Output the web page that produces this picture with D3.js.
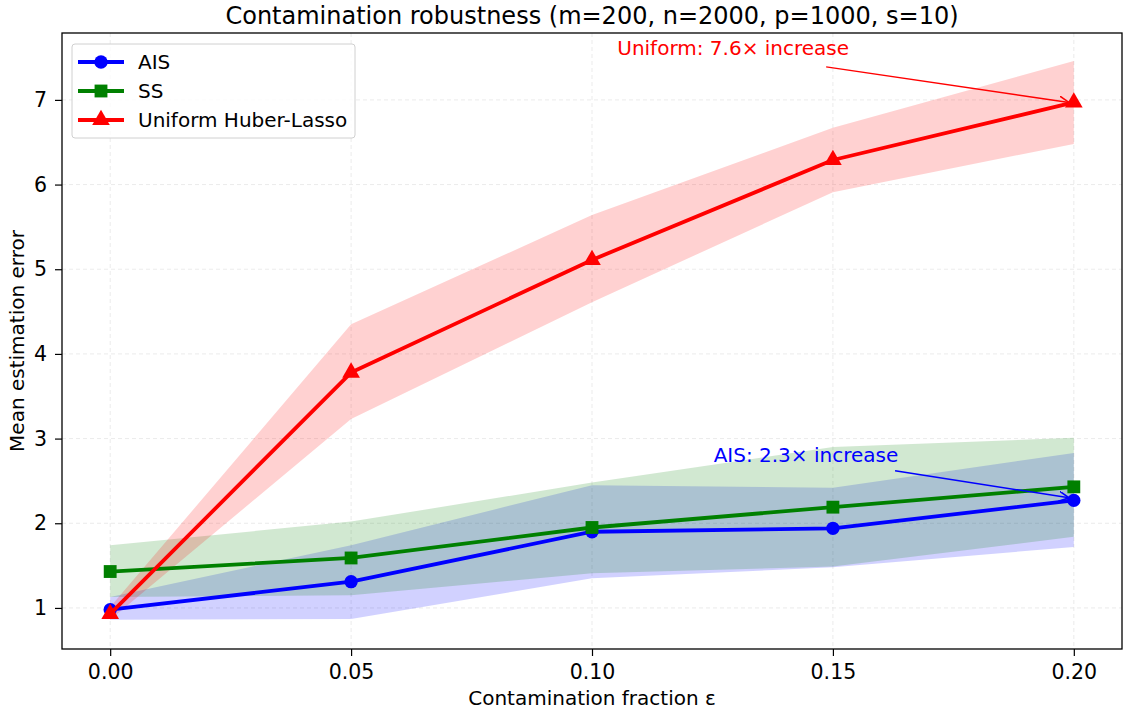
<!DOCTYPE html>
<html>
<head>
<meta charset="utf-8">
<script src="https://cdn.jsdelivr.net/npm/d3@7"></script>
<style>
  body { margin: 0; background: #fff; }
  svg { font-family: "DejaVu Sans", sans-serif; }
</style>
</head>
<body>
<svg id="chart" width="1123" height="711"></svg>
<script>
// contamination fractions
const eps = [0.00, 0.05, 0.10, 0.15, 0.20];

// mean estimation error per method
const aisMean = [0.98, 1.31, 1.90, 1.94, 2.27];
const aisLow = [0.86, 0.87, 1.35, 1.48, 1.72];
const aisHigh = [1.13, 1.74, 2.45, 2.42, 2.83];

const ssMean = [1.43, 1.59, 1.95, 2.19, 2.43];
const ssLow = [1.13, 1.15, 1.41, 1.49, 1.84];
const ssHigh = [1.74, 2.02, 2.48, 2.90, 3.01];

const uniMean = [0.93, 3.78, 5.11, 6.29, 6.97];
const uniLow = [0.86, 3.23, 4.61, 5.91, 6.48];
const uniHigh = [1.01, 4.35, 5.64, 6.67, 7.46];

const xTicks = [0.00, 0.05, 0.10, 0.15, 0.20];
const yTicks = [1, 2, 3, 4, 5, 6, 7];

const series = [
    { name: "AIS", color: "#0000ff", band: "rgba(0,0,255,0.18)", marker: d3.symbolCircle, size: 140, mean: aisMean, low: aisLow, high: aisHigh },
    { name: "SS", color: "#008000", band: "rgba(0,128,0,0.18)", marker: d3.symbolSquare, size: 165, mean: ssMean, low: ssLow, high: ssHigh },
    { name: "Uniform Huber-Lasso", color: "#ff0000", band: "rgba(255,0,0,0.18)", marker: d3.symbolTriangle, size: 135, mean: uniMean, low: uniLow, high: uniHigh }
];

const svg = d3.select("#chart"),
    margin = { top: 33, right: 1, bottom: 62, left: 62 },
    width = +svg.attr("width") - margin.left - margin.right,
    height = +svg.attr("height") - margin.top - margin.bottom,
    chart = svg.append("g").attr("transform", `translate(${margin.left},${margin.top})`);

const x = d3.scaleLinear().domain([-0.01, 0.21]).range([0, width]);
const y = d3.scaleLinear().domain([0.515, 7.79]).range([height, 0]);

// grid
chart.append("g").selectAll("line.gx").data(xTicks).join("line")
    .attr("x1", d => x(d)).attr("x2", d => x(d))
    .attr("y1", 0).attr("y2", height)
    .attr("stroke", "#e6e6e6").attr("stroke-dasharray", "4,3").attr("stroke-width", 0.8);
chart.append("g").selectAll("line.gy").data(yTicks).join("line")
    .attr("x1", 0).attr("x2", width)
    .attr("y1", d => y(d)).attr("y2", d => y(d))
    .attr("stroke", "#e6e6e6").attr("stroke-dasharray", "4,3").attr("stroke-width", 0.8);

// bands
const area = d3.area()
    .x((d, i) => x(eps[i]))
    .y0(d => y(d[0]))
    .y1(d => y(d[1]));

series.forEach(s => {
    chart.append("path")
        .datum(s.low.map((v, i) => [v, s.high[i]]))
        .attr("d", area)
        .attr("fill", s.band);
});

// lines and markers
const line = d3.line().x((d, i) => x(eps[i])).y(d => y(d));
series.forEach(s => {
    chart.append("path")
        .datum(s.mean)
        .attr("d", line)
        .attr("fill", "none")
        .attr("stroke", s.color)
        .attr("stroke-width", 3.8)
        .attr("stroke-linejoin", "round");
    chart.append("g").selectAll("path").data(s.mean).join("path")
        .attr("transform", (d, i) => `translate(${x(eps[i])},${y(d)})`)
        .attr("d", d3.symbol().type(s.marker).size(s.size))
        .attr("fill", s.color);
});

// annotations
const defs = svg.append("defs");
["red", "blue"].forEach(c => {
    defs.append("marker")
        .attr("id", "arrow-" + c)
        .attr("viewBox", "0 0 10 10")
        .attr("refX", 10).attr("refY", 5)
        .attr("markerWidth", 10).attr("markerHeight", 10)
        .attr("markerUnits", "userSpaceOnUse")
        .attr("orient", "auto")
        .append("path")
        .attr("d", "M0,0 L10,5 L0,10")
        .attr("fill", "none")
        .attr("stroke", c)
        .attr("stroke-width", 1.6);
});

const notes = [
    { text: "Uniform: 7.6× increase", color: "red", tx: 0.1293, ty: 7.60, sx: 0.1486, sy: 7.39, ex: 0.1990, ey: uniMean[4] },
    { text: "AIS: 2.3× increase", color: "blue", tx: 0.1444, ty: 2.79, sx: 0.1629, sy: 2.62, ex: 0.1990, ey: aisMean[4] + 0.03 }
];
notes.forEach(n => {
    chart.append("text")
        .attr("x", x(n.tx)).attr("y", y(n.ty))
        .attr("text-anchor", "middle")
        .attr("dominant-baseline", "middle")
        .attr("fill", n.color)
        .style("font-size", "20px")
        .text(n.text);
    chart.append("line")
        .attr("x1", x(n.sx)).attr("y1", y(n.sy))
        .attr("x2", x(n.ex)).attr("y2", y(n.ey))
        .attr("stroke", n.color)
        .attr("stroke-width", 1.5)
        .attr("marker-end", `url(#arrow-${n.color})`);
});

// axes
const xAxis = chart.append("g")
    .attr("transform", `translate(0,${height})`)
    .call(d3.axisBottom(x).tickValues(xTicks).tickFormat(d3.format(".2f")).tickSize(7).tickPadding(8));
const yAxis = chart.append("g")
    .call(d3.axisLeft(y).tickValues(yTicks).tickFormat(d3.format("d")).tickSize(7).tickPadding(8));
[xAxis, yAxis].forEach(a => {
    a.select(".domain").remove();
    a.selectAll("text").style("font-size", "20.5px").attr("fill", "#000").style("font-family", "DejaVu Sans");
    a.selectAll("line").attr("stroke", "#000").attr("stroke-width", 1.2);
});

chart.append("rect")
    .attr("width", width).attr("height", height)
    .attr("fill", "none").attr("stroke", "#000").attr("stroke-width", 1.3);

// labels
chart.append("text")
    .attr("text-anchor", "middle")
    .attr("x", width / 2)
    .attr("y", height + 56)
    .style("font-size", "20px")
    .text("Contamination fraction ε");

chart.append("text")
    .attr("text-anchor", "middle")
    .attr("transform", "rotate(-90)")
    .attr("x", -height / 2)
    .attr("y", -38)
    .style("font-size", "20px")
    .text("Mean estimation error");

svg.append("text")
    .attr("text-anchor", "middle")
    .attr("x", margin.left + width / 2)
    .attr("y", 24)
    .style("font-size", "24px")
    .text("Contamination robustness (m=200, n=2000, p=1000, s=10)");

// legend
const legend = chart.append("g").attr("transform", "translate(10,11)");
legend.append("rect")
    .attr("width", 283).attr("height", 94)
    .attr("rx", 3)
    .attr("fill", "rgba(255,255,255,0.8)")
    .attr("stroke", "#d0d0d0");
series.forEach((s, i) => {
    const g = legend.append("g").attr("transform", `translate(0,${18 + i * 29})`);
    g.append("line").attr("x1", 6).attr("x2", 52).attr("stroke", s.color).attr("stroke-width", 3.8);
    g.append("path").attr("transform", "translate(29,0)")
        .attr("d", d3.symbol().type(s.marker).size(s.size)).attr("fill", s.color);
    g.append("text").attr("x", 66).attr("dy", "0.35em")
        .style("font-size", "20px").text(s.name);
});
</script>
</body>
</html>
